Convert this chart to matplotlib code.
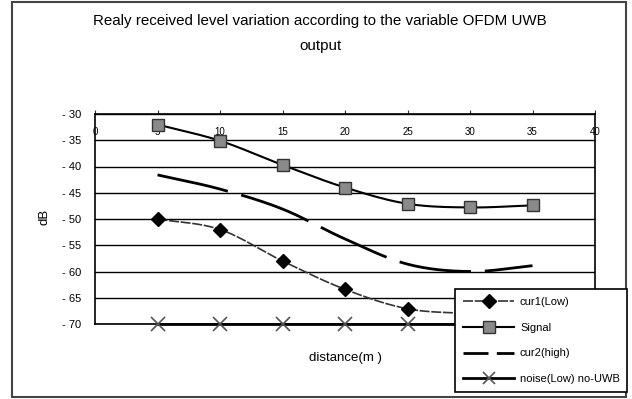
import numpy as np
import matplotlib
matplotlib.use("Agg")
import matplotlib.pyplot as plt
from matplotlib.patches import Rectangle
from matplotlib.lines import Line2D

plt.rcParams['font.family'] = ['Liberation Sans', 'DejaVu Sans']

distance = [5, 10, 15, 20, 25, 30, 35]
cur1_low = [-50.0, -52.0, -58.0, -63.4, -67.1, -68.0, -68.5]
signal = [-32.0, -35.1, -39.7, -44.0, -47.1, -47.8, -47.4]
cur2_high = [-41.6, -44.3, -48.1, -53.8, -58.6, -60.0, -58.9]
noise = [-70, -70, -70, -70, -70, -70, -70]
x_ticks = [0, 5, 10, 15, 20, 25, 30, 35, 40]
y_ticks = [-30, -35, -40, -45, -50, -55, -60, -65, -70]
labels = ['cur1(Low)', 'Signal', 'cur2(high)', 'noise(Low) no-UWB']


def smooth(x, y, n=24):
    # Catmull-Rom spline through the data points (Excel-style smoothed line)
    x = np.asarray(x, float)
    y = np.asarray(y, float)
    px = np.concatenate([[2 * x[0] - x[1]], x, [2 * x[-1] - x[-2]]])
    py = np.concatenate([[2 * y[0] - y[1]], y, [2 * y[-1] - y[-2]]])
    xs, ys = [], []
    t = np.linspace(0, 1, n, endpoint=False)
    for i in range(1, len(px) - 2):
        for arr, out in ((px, xs), (py, ys)):
            p0, p1, p2, p3 = arr[i - 1], arr[i], arr[i + 1], arr[i + 2]
            out.extend(0.5 * ((2 * p1) + (-p0 + p2) * t +
                              (2 * p0 - 5 * p1 + 4 * p2 - p3) * t ** 2 +
                              (-p0 + 3 * p1 - 3 * p2 + p3) * t ** 3))
    xs.append(x[-1])
    ys.append(y[-1])
    return np.array(xs), np.array(ys)


W, H = 632, 399
fig = plt.figure(figsize=(W / 100, H / 100), dpi=100)
fig.patch.set_facecolor('white')
fig.patches.append(Rectangle((12 / W, 2 / H), 614 / W, 395 / H, transform=fig.transFigure,
                             fill=False, edgecolor='#444444', linewidth=1.5, zorder=0))

ax = fig.add_axes([95 / W, 1 - 324 / H, 500 / W, 210 / H])
ax.set_xlim(0, 40)
ax.set_ylim(-70, -30)
ax.set_yticks(y_ticks)
ax.set_yticklabels([f"- {abs(v)}" for v in y_ticks], fontsize=8)
ax.tick_params(axis='y', length=0, pad=10)
ax.set_xticks(x_ticks)
ax.tick_params(axis='x', which='both', bottom=False, top=True, labelbottom=False,
               labeltop=False, length=3, direction='out', color='#333333')
ax.grid(axis='y', color='black', linewidth=1)
ax.set_axisbelow(True)
for s in ax.spines.values():
    s.set_color('black')
    s.set_linewidth(1.2)

sec = ax.secondary_xaxis(0.875)
sec.set_xticks(x_ticks)
sec.set_xticklabels([str(v) for v in x_ticks], fontsize=7)
sec.tick_params(length=0, pad=2)
sec.spines['top'].set_visible(False)
sec.spines['bottom'].set_visible(False)

# cur1 (Low)
sx, sy = smooth(distance, cur1_low)
ax.plot(sx, sy, color='#333333', linewidth=1.2, linestyle=(0, (6, 1)), zorder=3)
ax.plot(distance, cur1_low, linestyle='none', marker='D', markersize=7.5,
        color='black', zorder=4)
# Signal
sx, sy = smooth(distance, signal)
ax.plot(sx, sy, color='black', linewidth=1.5, zorder=3)
ax.plot(distance, signal, linestyle='none', marker='s', markersize=9,
        markerfacecolor='#8a8a8a', markeredgecolor='#333333', zorder=4)
# cur2 (high)
sx, sy = smooth(distance, cur2_high)
ax.plot(sx, sy, color='black', linewidth=2, dashes=(26, 5), zorder=3)
# noise
ax.plot(distance, noise, color='black', linewidth=2, zorder=3, clip_on=False)
ax.plot(distance, noise, linestyle='none', marker='x', markersize=10,
        markeredgewidth=1.2, color='#555555', zorder=4, clip_on=False)

fig.text(320 / W, 1 - 21 / H, 'Realy received level variation according to the variable OFDM UWB',
         ha='center', va='center', fontsize=10.9)
fig.text(320 / W, 1 - 46 / H, 'output', ha='center', va='center', fontsize=10.9)
fig.text(45 / W, 1 - 217 / H, 'dB', ha='center', va='center', rotation=90, fontsize=9.5)
fig.text(345 / W, 1 - 358 / H, 'distance(m )', ha='center', va='center', fontsize=9.5)

handles = [
    Line2D([], [], color='#333333', linewidth=1.2, linestyle=(0, (6, 1)), marker='D',
           markersize=7, markerfacecolor='black', markeredgecolor='black'),
    Line2D([], [], color='black', linewidth=1.5, marker='s', markersize=8,
           markerfacecolor='#8a8a8a', markeredgecolor='#333333'),
    Line2D([], [], color='black', linewidth=2, dashes=(9, 3)),
    Line2D([], [], color='black', linewidth=2, marker='x', markersize=9,
           markeredgewidth=1.2, markeredgecolor='#555555'),
]
leg = fig.legend(handles, labels, loc='upper left',
                 bbox_to_anchor=(455 / W, 1 - 289 / H, 172 / W, 0), bbox_transform=fig.transFigure,
                 mode='expand', fontsize=8, frameon=True, fancybox=False, edgecolor='black',
                 framealpha=1, facecolor='white',
                 handlelength=4.6, labelspacing=1.4, borderpad=0.75, handletextpad=0.5,
                 borderaxespad=0)
leg.get_frame().set_linewidth(1.2)
leg.set_zorder(10)

fig.savefig('out.png', dpi=100)
